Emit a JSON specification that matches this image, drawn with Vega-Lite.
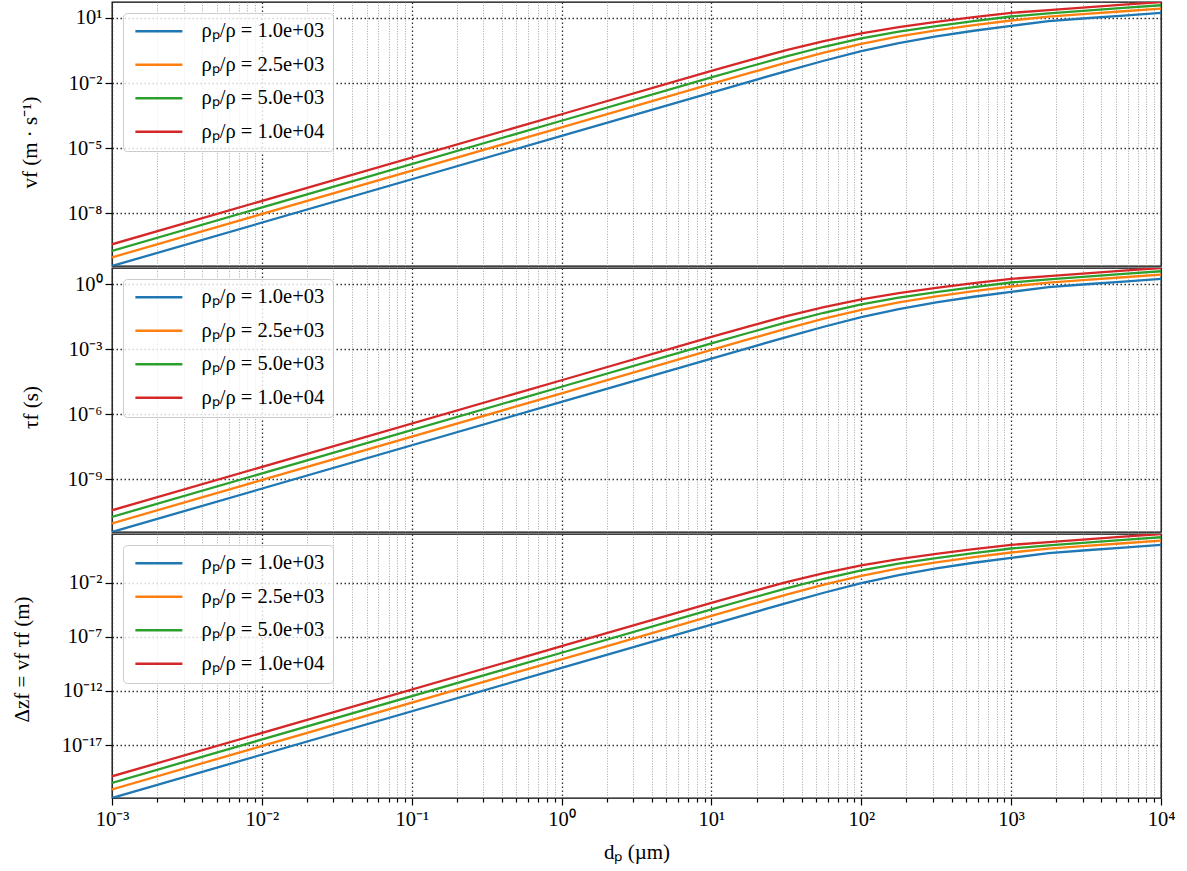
{
  "$schema": "https://vega.github.io/schema/vega-lite/v6.json",
  "padding": {"left": 10, "top": 1, "right": 5, "bottom": 5},
  "spacing": 0,
  "config": {
    "font": "Liberation Serif",
    "view": {"stroke": "black", "strokeWidth": 1.3},
    "axis": {
      "labelFont": "Liberation Serif", "labelFontSize": 20.5, "labelColor": "black",
      "titleFont": "Liberation Serif", "titleFontSize": 21, "titleFontWeight": "normal", "titleColor": "black",
      "domain": false, "tickColor": "black", "tickWidth": 1.2,
      "grid": true, "gridColor": "#333333", "gridDash": [1.5, 2.5], "gridWidth": 1.3,
      "labelOverlap": false, "labelFlush": false, "labelBound": false
    },
    "legend": {
      "orient": "top-left", "offset": 11, "title": null,
      "symbolType": "M-1,0H7", "symbolStrokeWidth": 2.4, "symbolSize": 138, "symbolOpacity": 1, "symbolFillColor": "transparent",
      "labelFont": "Liberation Serif", "labelFontSize": 20.5, "labelColor": "black", "labelOffset": 50, "labelLimit": 400,
      "rowPadding": 12.5, "padding": 8,
      "strokeColor": "#cccccc", "fillColor": "rgba(255,255,255,0.8)", "cornerRadius": 4
    }
  },
  "datasets": {
    "curves": [
      {"s": "ρₚ/ρ = 1.0e+03", "d": 0.001, "v": 3.633e-11, "tau": 3.703e-12, "dz": 1.346e-22},
      {"s": "ρₚ/ρ = 1.0e+03", "d": 1, "v": 3.633e-5, "tau": 3.703e-6, "dz": 1.346e-10},
      {"s": "ρₚ/ρ = 1.0e+03", "d": 10, "v": 3.625e-3, "tau": 3.695e-4, "dz": 1.339e-6},
      {"s": "ρₚ/ρ = 1.0e+03", "d": 17.78, "v": 1.140e-2, "tau": 1.162e-3, "dz": 1.325e-5},
      {"s": "ρₚ/ρ = 1.0e+03", "d": 31.62, "v": 3.539e-2, "tau": 3.608e-3, "dz": 1.277e-4},
      {"s": "ρₚ/ρ = 1.0e+03", "d": 56.23, "v": 0.1064, "tau": 1.084e-2, "dz": 1.154e-3},
      {"s": "ρₚ/ρ = 1.0e+03", "d": 100, "v": 0.2936, "tau": 2.992e-2, "dz": 8.785e-3},
      {"s": "ρₚ/ρ = 1.0e+03", "d": 177.8, "v": 0.6998, "tau": 7.134e-2, "dz": 4.992e-2},
      {"s": "ρₚ/ρ = 1.0e+03", "d": 316.2, "v": 1.424, "tau": 0.1451, "dz": 0.2066},
      {"s": "ρₚ/ρ = 1.0e+03", "d": 562.3, "v": 2.573, "tau": 0.2622, "dz": 0.6747},
      {"s": "ρₚ/ρ = 1.0e+03", "d": 1000, "v": 4.341, "tau": 0.4425, "dz": 1.921},
      {"s": "ρₚ/ρ = 1.0e+03", "d": 1778, "v": 7.088, "tau": 0.7225, "dz": 5.120},
      {"s": "ρₚ/ρ = 1.0e+03", "d": 3162, "v": 9.696, "tau": 0.9883, "dz": 9.584},
      {"s": "ρₚ/ρ = 1.0e+03", "d": 5623, "v": 12.93, "tau": 1.318, "dz": 17.04},
      {"s": "ρₚ/ρ = 1.0e+03", "d": 10000, "v": 17.24, "tau": 1.758, "dz": 30.30},
      {"s": "ρₚ/ρ = 2.5e+03", "d": 0.001, "v": 9.083e-11, "tau": 9.257e-12, "dz": 8.408e-22},
      {"s": "ρₚ/ρ = 2.5e+03", "d": 1, "v": 9.083e-5, "tau": 9.257e-6, "dz": 8.408e-10},
      {"s": "ρₚ/ρ = 2.5e+03", "d": 10, "v": 9.041e-3, "tau": 9.214e-4, "dz": 8.331e-6},
      {"s": "ρₚ/ρ = 2.5e+03", "d": 17.78, "v": 2.831e-2, "tau": 2.885e-3, "dz": 8.168e-5},
      {"s": "ρₚ/ρ = 2.5e+03", "d": 31.62, "v": 8.676e-2, "tau": 8.843e-3, "dz": 7.672e-4},
      {"s": "ρₚ/ρ = 2.5e+03", "d": 56.23, "v": 0.2511, "tau": 2.559e-2, "dz": 6.426e-3},
      {"s": "ρₚ/ρ = 2.5e+03", "d": 100, "v": 0.6448, "tau": 6.572e-2, "dz": 4.237e-2},
      {"s": "ρₚ/ρ = 2.5e+03", "d": 177.8, "v": 1.409, "tau": 0.1437, "dz": 0.2024},
      {"s": "ρₚ/ρ = 2.5e+03", "d": 316.2, "v": 2.675, "tau": 0.2727, "dz": 0.7296},
      {"s": "ρₚ/ρ = 2.5e+03", "d": 562.3, "v": 4.640, "tau": 0.4729, "dz": 2.194},
      {"s": "ρₚ/ρ = 2.5e+03", "d": 1000, "v": 7.652, "tau": 0.7800, "dz": 5.969},
      {"s": "ρₚ/ρ = 2.5e+03", "d": 1778, "v": 11.49, "tau": 1.172, "dz": 13.47},
      {"s": "ρₚ/ρ = 2.5e+03", "d": 3162, "v": 15.33, "tau": 1.562, "dz": 23.95},
      {"s": "ρₚ/ρ = 2.5e+03", "d": 5623, "v": 20.44, "tau": 2.084, "dz": 42.59},
      {"s": "ρₚ/ρ = 2.5e+03", "d": 10000, "v": 27.26, "tau": 2.778, "dz": 75.73},
      {"s": "ρₚ/ρ = 5.0e+03", "d": 0.001, "v": 1.817e-10, "tau": 1.852e-11, "dz": 3.364e-21},
      {"s": "ρₚ/ρ = 5.0e+03", "d": 1, "v": 1.817e-4, "tau": 1.852e-5, "dz": 3.364e-9},
      {"s": "ρₚ/ρ = 5.0e+03", "d": 10, "v": 1.804e-2, "tau": 1.839e-3, "dz": 3.317e-5},
      {"s": "ρₚ/ρ = 5.0e+03", "d": 17.78, "v": 5.614e-2, "tau": 5.723e-3, "dz": 3.213e-4},
      {"s": "ρₚ/ρ = 5.0e+03", "d": 31.62, "v": 0.1692, "tau": 1.724e-2, "dz": 2.917e-3},
      {"s": "ρₚ/ρ = 5.0e+03", "d": 56.23, "v": 0.4703, "tau": 4.794e-2, "dz": 2.255e-2},
      {"s": "ρₚ/ρ = 5.0e+03", "d": 100, "v": 1.134, "tau": 0.1156, "dz": 0.1311},
      {"s": "ρₚ/ρ = 5.0e+03", "d": 177.8, "v": 2.331, "tau": 0.2376, "dz": 0.5537},
      {"s": "ρₚ/ρ = 5.0e+03", "d": 316.2, "v": 4.239, "tau": 0.4321, "dz": 1.832},
      {"s": "ρₚ/ρ = 5.0e+03", "d": 562.3, "v": 7.178, "tau": 0.7317, "dz": 5.252},
      {"s": "ρₚ/ρ = 5.0e+03", "d": 1000, "v": 11.69, "tau": 1.192, "dz": 13.93},
      {"s": "ρₚ/ρ = 5.0e+03", "d": 1778, "v": 16.26, "tau": 1.657, "dz": 26.94},
      {"s": "ρₚ/ρ = 5.0e+03", "d": 3162, "v": 21.68, "tau": 2.210, "dz": 47.91},
      {"s": "ρₚ/ρ = 5.0e+03", "d": 5623, "v": 28.91, "tau": 2.947, "dz": 85.20},
      {"s": "ρₚ/ρ = 5.0e+03", "d": 10000, "v": 38.56, "tau": 3.930, "dz": 151.5},
      {"s": "ρₚ/ρ = 1.0e+04", "d": 0.001, "v": 3.633e-10, "tau": 3.703e-11, "dz": 1.346e-20},
      {"s": "ρₚ/ρ = 1.0e+04", "d": 1, "v": 3.633e-4, "tau": 3.703e-5, "dz": 1.346e-8},
      {"s": "ρₚ/ρ = 1.0e+04", "d": 10, "v": 3.592e-2, "tau": 3.661e-3, "dz": 1.315e-4},
      {"s": "ρₚ/ρ = 1.0e+04", "d": 17.78, "v": 0.1108, "tau": 1.129e-2, "dz": 1.251e-3},
      {"s": "ρₚ/ρ = 1.0e+04", "d": 31.62, "v": 0.3256, "tau": 3.319e-2, "dz": 1.081e-2},
      {"s": "ρₚ/ρ = 1.0e+04", "d": 56.23, "v": 0.8604, "tau": 8.770e-2, "dz": 7.546e-2},
      {"s": "ρₚ/ρ = 1.0e+04", "d": 100, "v": 1.940, "tau": 0.1978, "dz": 0.3836},
      {"s": "ρₚ/ρ = 1.0e+04", "d": 177.8, "v": 3.776, "tau": 0.3849, "dz": 1.453},
      {"s": "ρₚ/ρ = 1.0e+04", "d": 316.2, "v": 6.640, "tau": 0.6768, "dz": 4.495},
      {"s": "ρₚ/ρ = 1.0e+04", "d": 562.3, "v": 11.03, "tau": 1.125, "dz": 12.41},
      {"s": "ρₚ/ρ = 1.0e+04", "d": 1000, "v": 17.24, "tau": 1.758, "dz": 30.30},
      {"s": "ρₚ/ρ = 1.0e+04", "d": 1778, "v": 22.99, "tau": 2.344, "dz": 53.89},
      {"s": "ρₚ/ρ = 1.0e+04", "d": 3162, "v": 30.66, "tau": 3.125, "dz": 95.84},
      {"s": "ρₚ/ρ = 1.0e+04", "d": 5623, "v": 40.89, "tau": 4.168, "dz": 170.4},
      {"s": "ρₚ/ρ = 1.0e+04", "d": 10000, "v": 54.52, "tau": 5.558, "dz": 303.0}
    ]
  },
  "resolve": {"scale": {"color": "independent"}, "legend": {"color": "independent"}},
  "vconcat": [
    {
      "width": 1049, "height": 264,
      "data": {"name": "curves"},
      "mark": {"type": "line", "strokeWidth": 2.3, "clip": true},
      "encoding": {
        "x": {"field": "d", "type": "quantitative",
          "scale": {"type": "log", "domain": [0.001, 10000], "nice": false},
          "axis": {"title": null, "labels": false, "ticks": false, "minExtent": 0, "maxExtent": 0,
            "values": [0.001,0.002,0.003,0.004,0.005,0.006,0.007,0.008,0.009,0.01,0.02,0.03,0.04,0.05,0.06,0.07,0.08,0.09,0.1,0.2,0.3,0.4,0.5,0.6,0.7,0.8,0.9,1,2,3,4,5,6,7,8,9,10,20,30,40,50,60,70,80,90,100,200,300,400,500,600,700,800,900,1000,2000,3000,4000,5000,6000,7000,8000,9000,10000],
            "gridColor": {"condition": {"test": "abs(log(datum.value)/LN10 - round(log(datum.value)/LN10)) < 0.01", "value": "#333333"}, "value": "#9a9a9a"},
            "gridWidth": {"condition": {"test": "abs(log(datum.value)/LN10 - round(log(datum.value)/LN10)) < 0.01", "value": 1.3}, "value": 0.9},
            "gridDash": {"condition": {"test": "abs(log(datum.value)/LN10 - round(log(datum.value)/LN10)) < 0.01", "value": [1.5, 2.5]}, "value": [1, 1.6]}
          }
        },
        "y": {"field": "v", "type": "quantitative",
          "scale": {"type": "log", "nice": false, "zero": false},
          "axis": {"title": "vf (m · s⁻¹)", "values": [10, 0.01, 0.00001, 0.00000001], "tickSize": 7, "labelPadding": 3,
            "titleX": -82, "titleY": 140, "titleAngle": 270, "titleBaseline": "middle", "titleAlign": "center",
            "labelExpr": "'10' + replace(replace(replace(replace(replace(replace(replace(replace(replace(replace(replace(toString(round(log(datum.value)/LN10)), regexp('-','g'), '⁻'), regexp('0','g'), '⁰'), regexp('1','g'), '¹'), regexp('2','g'), '²'), regexp('3','g'), '³'), regexp('4','g'), '⁴'), regexp('5','g'), '⁵'), regexp('6','g'), '⁶'), regexp('7','g'), '⁷'), regexp('8','g'), '⁸'), regexp('9','g'), '⁹')"}
        },
        "color": {"field": "s", "type": "nominal",
          "scale": {"domain": ["ρₚ/ρ = 1.0e+03", "ρₚ/ρ = 2.5e+03", "ρₚ/ρ = 5.0e+03", "ρₚ/ρ = 1.0e+04"], "range": ["#1f77b4", "#ff7f0e", "#2ca02c", "#d62728"]},
          "legend": {"orient": "top-left"}}
      }
    },
    {
      "width": 1049, "height": 264,
      "data": {"name": "curves"},
      "mark": {"type": "line", "strokeWidth": 2.3, "clip": true},
      "encoding": {
        "x": {"field": "d", "type": "quantitative",
          "scale": {"type": "log", "domain": [0.001, 10000], "nice": false},
          "axis": {"title": null, "labels": false, "ticks": false, "minExtent": 0, "maxExtent": 0,
            "values": [0.001,0.002,0.003,0.004,0.005,0.006,0.007,0.008,0.009,0.01,0.02,0.03,0.04,0.05,0.06,0.07,0.08,0.09,0.1,0.2,0.3,0.4,0.5,0.6,0.7,0.8,0.9,1,2,3,4,5,6,7,8,9,10,20,30,40,50,60,70,80,90,100,200,300,400,500,600,700,800,900,1000,2000,3000,4000,5000,6000,7000,8000,9000,10000],
            "gridColor": {"condition": {"test": "abs(log(datum.value)/LN10 - round(log(datum.value)/LN10)) < 0.01", "value": "#333333"}, "value": "#9a9a9a"},
            "gridWidth": {"condition": {"test": "abs(log(datum.value)/LN10 - round(log(datum.value)/LN10)) < 0.01", "value": 1.3}, "value": 0.9},
            "gridDash": {"condition": {"test": "abs(log(datum.value)/LN10 - round(log(datum.value)/LN10)) < 0.01", "value": [1.5, 2.5]}, "value": [1, 1.6]}
          }
        },
        "y": {"field": "tau", "type": "quantitative",
          "scale": {"type": "log", "nice": false, "zero": false},
          "axis": {"title": "τf (s)", "values": [1, 0.001, 0.000001, 0.000000001], "tickSize": 7, "labelPadding": 3,
            "titleX": -81, "titleY": 139, "titleAngle": 270, "titleBaseline": "middle", "titleAlign": "center",
            "labelExpr": "'10' + replace(replace(replace(replace(replace(replace(replace(replace(replace(replace(replace(toString(round(log(datum.value)/LN10)), regexp('-','g'), '⁻'), regexp('0','g'), '⁰'), regexp('1','g'), '¹'), regexp('2','g'), '²'), regexp('3','g'), '³'), regexp('4','g'), '⁴'), regexp('5','g'), '⁵'), regexp('6','g'), '⁶'), regexp('7','g'), '⁷'), regexp('8','g'), '⁸'), regexp('9','g'), '⁹')"}
        },
        "color": {"field": "s", "type": "nominal",
          "scale": {"domain": ["ρₚ/ρ = 1.0e+03", "ρₚ/ρ = 2.5e+03", "ρₚ/ρ = 5.0e+03", "ρₚ/ρ = 1.0e+04"], "range": ["#1f77b4", "#ff7f0e", "#2ca02c", "#d62728"]},
          "legend": {"orient": "top-left"}}
      }
    },
    {
      "width": 1049, "height": 264,
      "data": {"name": "curves"},
      "mark": {"type": "line", "strokeWidth": 2.3, "clip": true},
      "encoding": {
        "x": {"field": "d", "type": "quantitative",
          "scale": {"type": "log", "domain": [0.001, 10000], "nice": false},
          "axis": {"title": "dₚ (µm)", "titlePadding": 12, "labelPadding": 4,
            "values": [0.001,0.002,0.003,0.004,0.005,0.006,0.007,0.008,0.009,0.01,0.02,0.03,0.04,0.05,0.06,0.07,0.08,0.09,0.1,0.2,0.3,0.4,0.5,0.6,0.7,0.8,0.9,1,2,3,4,5,6,7,8,9,10,20,30,40,50,60,70,80,90,100,200,300,400,500,600,700,800,900,1000,2000,3000,4000,5000,6000,7000,8000,9000,10000],
            "labelExpr": "abs(log(datum.value)/LN10 - round(log(datum.value)/LN10)) < 0.01 ? '10' + replace(replace(replace(replace(replace(replace(replace(replace(replace(replace(replace(toString(round(log(datum.value)/LN10)), regexp('-','g'), '⁻'), regexp('0','g'), '⁰'), regexp('1','g'), '¹'), regexp('2','g'), '²'), regexp('3','g'), '³'), regexp('4','g'), '⁴'), regexp('5','g'), '⁵'), regexp('6','g'), '⁶'), regexp('7','g'), '⁷'), regexp('8','g'), '⁸'), regexp('9','g'), '⁹') : ''",
            "tickSize": {"condition": {"test": "abs(log(datum.value)/LN10 - round(log(datum.value)/LN10)) < 0.01", "value": 7}, "value": 4},
            "gridColor": {"condition": {"test": "abs(log(datum.value)/LN10 - round(log(datum.value)/LN10)) < 0.01", "value": "#333333"}, "value": "#9a9a9a"},
            "gridWidth": {"condition": {"test": "abs(log(datum.value)/LN10 - round(log(datum.value)/LN10)) < 0.01", "value": 1.3}, "value": 0.9},
            "gridDash": {"condition": {"test": "abs(log(datum.value)/LN10 - round(log(datum.value)/LN10)) < 0.01", "value": [1.5, 2.5]}, "value": [1, 1.6]}
          }
        },
        "y": {"field": "dz", "type": "quantitative",
          "scale": {"type": "log", "nice": false, "zero": false},
          "axis": {"title": "Δzf = vf τf (m)", "values": [0.01, 1e-7, 1e-12, 1e-17], "tickSize": 7, "labelPadding": 3,
            "titleX": -90, "titleY": 125, "titleAngle": 270, "titleBaseline": "middle", "titleAlign": "center",
            "labelExpr": "'10' + replace(replace(replace(replace(replace(replace(replace(replace(replace(replace(replace(toString(round(log(datum.value)/LN10)), regexp('-','g'), '⁻'), regexp('0','g'), '⁰'), regexp('1','g'), '¹'), regexp('2','g'), '²'), regexp('3','g'), '³'), regexp('4','g'), '⁴'), regexp('5','g'), '⁵'), regexp('6','g'), '⁶'), regexp('7','g'), '⁷'), regexp('8','g'), '⁸'), regexp('9','g'), '⁹')"}
        },
        "color": {"field": "s", "type": "nominal",
          "scale": {"domain": ["ρₚ/ρ = 1.0e+03", "ρₚ/ρ = 2.5e+03", "ρₚ/ρ = 5.0e+03", "ρₚ/ρ = 1.0e+04"], "range": ["#1f77b4", "#ff7f0e", "#2ca02c", "#d62728"]},
          "legend": {"orient": "top-left"}}
      }
    }
  ]
}
